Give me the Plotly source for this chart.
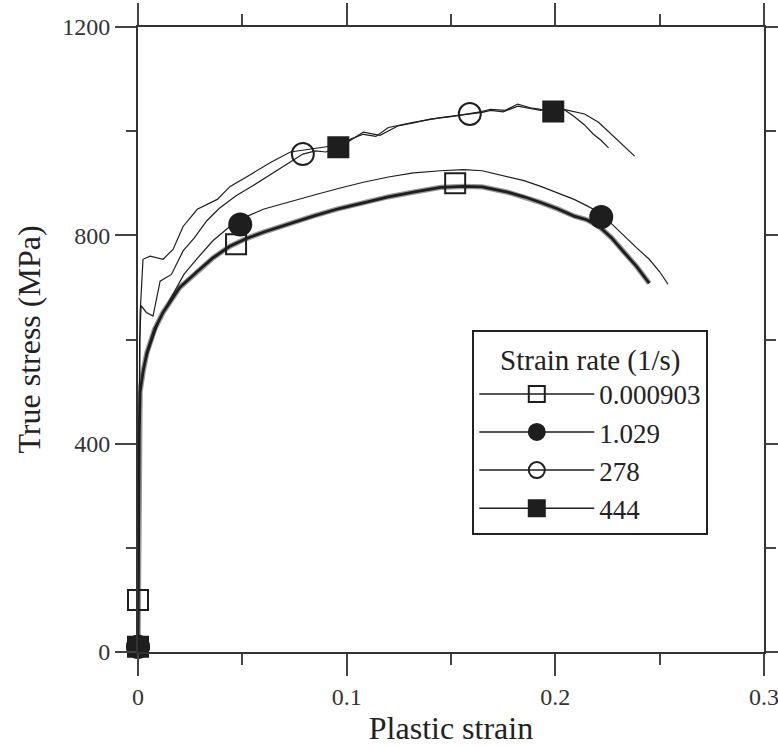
import plotly.graph_objects as go

# ---- data ----
# 0.000903 1/s  (thick, noisy lower curve)
qs_strain = [0, 0.0002, 0.0006, 0.001, 0.0025, 0.0043, 0.008, 0.012, 0.02, 0.028, 0.036, 0.044, 0.052, 0.060,
             0.072, 0.084, 0.096, 0.108, 0.120, 0.132, 0.145, 0.156, 0.165, 0.177, 0.185, 0.193, 0.201, 0.209,
             0.215, 0.2207, 0.227, 0.233, 0.239, 0.245]
qs_stress = [0, 200, 420, 500, 540, 575, 620, 652, 700, 729, 757, 779, 794, 806,
             822, 837, 851, 863, 874, 883, 892, 894, 893, 883, 874, 863, 851, 837,
             830, 818, 795, 767, 740, 708]
qs_mark_x = [0.0, 0.047, 0.152]
qs_mark_y = [100, 783, 900]

# 1.029 1/s  (thin lower curve)
r1_strain = [0, 0.0002, 0.0006, 0.001, 0.0025, 0.0058, 0.010, 0.0154, 0.022, 0.028, 0.036, 0.044, 0.052, 0.060,
             0.072, 0.084, 0.096, 0.108, 0.120, 0.132, 0.145, 0.156, 0.165, 0.177, 0.185, 0.193, 0.201, 0.209,
             0.215, 0.2207, 0.227, 0.233, 0.239, 0.245, 0.250, 0.254]
r1_stress = [0, 200, 420, 500, 545, 587, 635, 677, 725, 754, 790, 817, 836, 850,
             864, 877, 890, 902, 912, 920, 924, 926, 924, 913, 905, 894, 882, 869,
             857, 845, 822, 798, 776, 754, 730, 706]
r1_mark_x = [0.0, 0.049, 0.222]
r1_mark_y = [10, 821, 835]

# 278 1/s  (thin upper curve, dip near yield)
r278_strain = [0, 0.0003, 0.0008, 0.0015, 0.004, 0.0072, 0.0106, 0.016, 0.0216, 0.027, 0.033, 0.039, 0.047,
               0.055, 0.063, 0.071, 0.079, 0.085, 0.090, 0.096, 0.102, 0.108, 0.114, 0.120, 0.132, 0.145,
               0.159, 0.165, 0.169, 0.175, 0.182, 0.188, 0.193, 0.199, 0.204, 0.209, 0.214, 0.218, 0.222, 0.2255]
r278_stress = [0, 400, 600, 665, 652, 645, 712, 725, 770, 795, 828, 852, 876,
               895, 915, 936, 956, 962, 960, 969, 985, 994, 990, 1007, 1017, 1026,
               1033, 1036, 1040, 1037, 1048, 1044, 1040, 1045, 1042, 1028, 1012, 995, 982, 968]
r278_mark_x = [0.0, 0.079, 0.159]
r278_mark_y = [10, 956, 1033]

# 444 1/s  (thin upper curve, early jump)
r444_strain = [0, 0.0005, 0.001, 0.0024, 0.0058, 0.012, 0.0168, 0.0216, 0.0284, 0.038, 0.0442, 0.054,
               0.0635, 0.073, 0.082, 0.092, 0.100, 0.108, 0.116, 0.1245, 0.132, 0.140, 0.150, 0.164, 0.169,
               0.176, 0.182, 0.188, 0.193, 0.199, 0.204, 0.214, 0.2207, 0.228, 0.233, 0.238]
r444_stress = [0, 500, 650, 754, 760, 754, 773, 817, 850, 869, 894, 917,
               940, 960, 965, 971, 978, 998, 992, 1010, 1016, 1023, 1028, 1037, 1042,
               1040, 1052, 1045, 1042, 1040, 1042, 1033, 1017, 990, 972, 952]
r444_mark_x = [0.0, 0.096, 0.199]
r444_mark_y = [10, 969, 1038]

labels = ["0.000903", "1.029", "278", "444"]
x_ticks = [0, 0.1, 0.2, 0.3]
x_tick_text = ["0", "0.1", "0.2", "0.3"]
y_ticks = [0, 400, 800, 1200]
y_tick_text = ["0", "400", "800", "1200"]

INK = "#1e1e1e"
FONT = "Liberation Serif"

series = [
    (qs_strain, qs_stress, qs_mark_x, qs_mark_y, "square-open", 2.8, 20, labels[0]),
    (r1_strain, r1_stress, r1_mark_x, r1_mark_y, "circle", 1.2, 22, labels[1]),
    (r278_strain, r278_stress, r278_mark_x, r278_mark_y, "circle-open", 1.2, 22, labels[2]),
    (r444_strain, r444_stress, r444_mark_x, r444_mark_y, "square", 1.2, 20, labels[3]),
]

fig = go.Figure()
for xs, ys, mx, my, sym, lw, ms, name in series:
    if lw > 2:
        fig.add_trace(go.Scatter(x=xs, y=ys, mode="lines", line=dict(color="#9a9a9a", width=lw + 2.5),
                                 showlegend=False, hoverinfo="skip"))
    fig.add_trace(go.Scatter(x=xs, y=ys, mode="lines", line=dict(color=INK, width=lw),
                             showlegend=False))
# open markers first so the filled ones sit on top near the origin
for idx in (2, 0, 1, 3):
    xs, ys, mx, my, sym, lw, ms, name = series[idx]
    fig.add_trace(go.Scatter(x=mx, y=my, mode="markers", showlegend=False, cliponaxis=False,
                             marker=dict(symbol=sym, size=ms, color=INK,
                                         line=dict(color=INK, width=2))))
for i, (xs, ys, mx, my, sym, lw, ms, name) in enumerate(series):
    fig.add_trace(go.Scatter(x=[None], y=[None], mode="lines+markers", name=name,
                             line=dict(color=INK, width=1.5),
                             marker=dict(symbol=sym, size=ms, color=INK,
                                         line=dict(color=INK, width=2))))

axis_common = dict(
    showline=True, linecolor="#333", linewidth=2, mirror="ticks",
    ticks="outside", tickcolor="#444", tickwidth=2,
    showgrid=False, zeroline=False, automargin=False,
    ticklabeloverflow="allow",
    tickfont=dict(family=FONT, size=24, color="#333"),
)

fig.update_xaxes(range=[0, 0.3], tickvals=x_ticks, ticktext=x_tick_text, ticklen=22,
                 minor=dict(dtick=0.05, ticklen=11, tickcolor="#444", tickwidth=2, ticks="outside"),
                 title=dict(text="Plastic strain", font=dict(family=FONT, size=32, color="#222"), standoff=8),
                 **axis_common)
fig.update_yaxes(range=[0, 1200], tickvals=y_ticks, ticktext=y_tick_text, ticklen=21,
                 minor=dict(dtick=200, ticklen=10, tickcolor="#444", tickwidth=2, ticks="outside"),
                 title=dict(text="True stress (MPa)", font=dict(family=FONT, size=32, color="#222"), standoff=12),
                 **axis_common)

fig.update_layout(
    width=778, height=746,
    margin=dict(l=138, r=14, t=27, b=94),
    plot_bgcolor="white", paper_bgcolor="white",
    legend=dict(
        x=0.534, y=0.515, xanchor="left", yanchor="top",
        bgcolor="white", bordercolor="#222", borderwidth=2,
        font=dict(family=FONT, size=27, color="#222"),
        title=dict(text="Strain rate (1/s)", font=dict(family=FONT, size=29, color="#222"), side="top center"),
        itemwidth=115,
    ),
)

fig.write_html("out.html", config={"displayModeBar": False},
               post_script="document.body.style.margin='0px';")
